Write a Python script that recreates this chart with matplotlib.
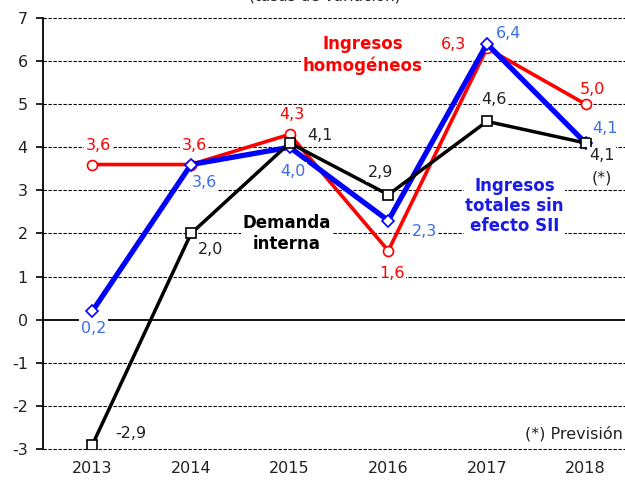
import numpy as np
import matplotlib
matplotlib.use('Agg')
import matplotlib.pyplot as plt

years = ['2013', '2014', '2015', '2016', '2017', '2018']
ingresos_homog = [3.6, 3.6, 4.3, 1.6, 6.3, 5.0]
ingresos_totales = [0.2, 3.6, 4.0, 2.3, 6.4, 4.1]
demanda_interna = [-2.9, 2.0, 4.1, 2.9, 4.6, 4.1]

# label offsets in pixels, per point
off_red = [(6, 19), (3, 19), (2, 20), (4, -23), (-33, 4), (7, 15)]
off_blue = [(1, -17), (13, -18), (3, -24), (36, -11), (22, 10), (19, 14)]
off_black = [(38, 11), (20, -16), (30, 7), (-8, 22), (7, 22), (16, -13)]

RED = '#ff0000'
BLUE = '#0000ff'
BLUE_TXT = '#3a6ee8'
DARK = '#222222'

plt.rcParams['font.family'] = 'DejaVu Sans'
plt.rcParams['axes.unicode_minus'] = False

fig = plt.figure(figsize=(6.25, 4.82), dpi=100)
ax = fig.add_axes([0.069, 0.0685, 0.931, 0.8942])

x = np.arange(len(years))

ax.plot(x, ingresos_homog, color=RED, lw=2.6, marker='o', ms=7.2,
        mfc='white', mec=RED, mew=1.2, zorder=3)
ax.plot(x, ingresos_totales, color=BLUE, lw=3.8, marker='D', ms=6,
        mfc='white', mec=BLUE, mew=1.2, zorder=4)
ax.plot(x, demanda_interna, color='black', lw=2.5, marker='s', ms=7.5,
        mfc='white', mec='black', mew=1.2, zorder=5)

def fmt(v):
    return ('%.1f' % v).replace('.', ',')

box = dict(facecolor='white', edgecolor='none', pad=1)
for vals, offs, col in [(ingresos_homog, off_red, RED),
                        (ingresos_totales, off_blue, BLUE_TXT),
                        (demanda_interna, off_black, DARK)]:
    for i, v in enumerate(vals):
        ax.annotate(fmt(v), (x[i], v), xytext=offs[i], textcoords='offset pixels',
                    ha='center', va='center', color=col, fontsize=11.5,
                    bbox=box, zorder=6)

ax.annotate('(*)', (x[5], demanda_interna[5]), xytext=(16, -35),
            textcoords='offset pixels', ha='center', va='center',
            color=DARK, fontsize=11.5, bbox=box, zorder=6)

# series names
ax.text(2.74, 6.15, 'Ingresos\nhomogéneos', color=RED, fontsize=12,
        fontweight='bold', ha='center', va='center', linespacing=1.25,
        bbox=box, zorder=6)
ax.text(1.97, 2.0, 'Demanda\ninterna', color='black', fontsize=12,
        fontweight='bold', ha='center', va='center', linespacing=1.25,
        bbox=box, zorder=6)
ax.text(4.28, 2.63, 'Ingresos\ntotales sin\nefecto SII', color='#1a1ae6',
        fontsize=12, fontweight='bold', ha='center', va='center',
        linespacing=1.15, bbox=box, zorder=6)
ax.text(5.38, -2.65, '(*) Previsión', color=DARK, fontsize=11.5,
        ha='right', va='center', bbox=box, zorder=6)

fig.text(0.52, 1.008, '(tasas de variación)', ha='center', va='center',
         fontsize=11, color=DARK)

ax.set_xlim(-0.5, 5.4)
ax.set_ylim(-3, 7)
ax.set_yticks(range(-3, 8))
ax.set_xticks(x)
ax.set_xticklabels(years)

for yv in range(-3, 8):
    if yv == 0:
        ax.axhline(0, color='black', lw=1.3, zorder=1)
    else:
        ax.axhline(yv, color='black', lw=0.8, ls=(0, (3, 1.5)), zorder=1,
                   clip_on=False)

for s in ['top', 'right', 'bottom']:
    ax.spines[s].set_visible(False)
ax.spines['left'].set_linewidth(1.3)
ax.tick_params(axis='y', length=5, width=1.2, pad=6, labelsize=11.5,
               labelcolor=DARK)
ax.tick_params(axis='x', length=0, pad=9, labelsize=11.5,
               labelcolor=DARK)

fig.savefig('out.png', dpi=100)
